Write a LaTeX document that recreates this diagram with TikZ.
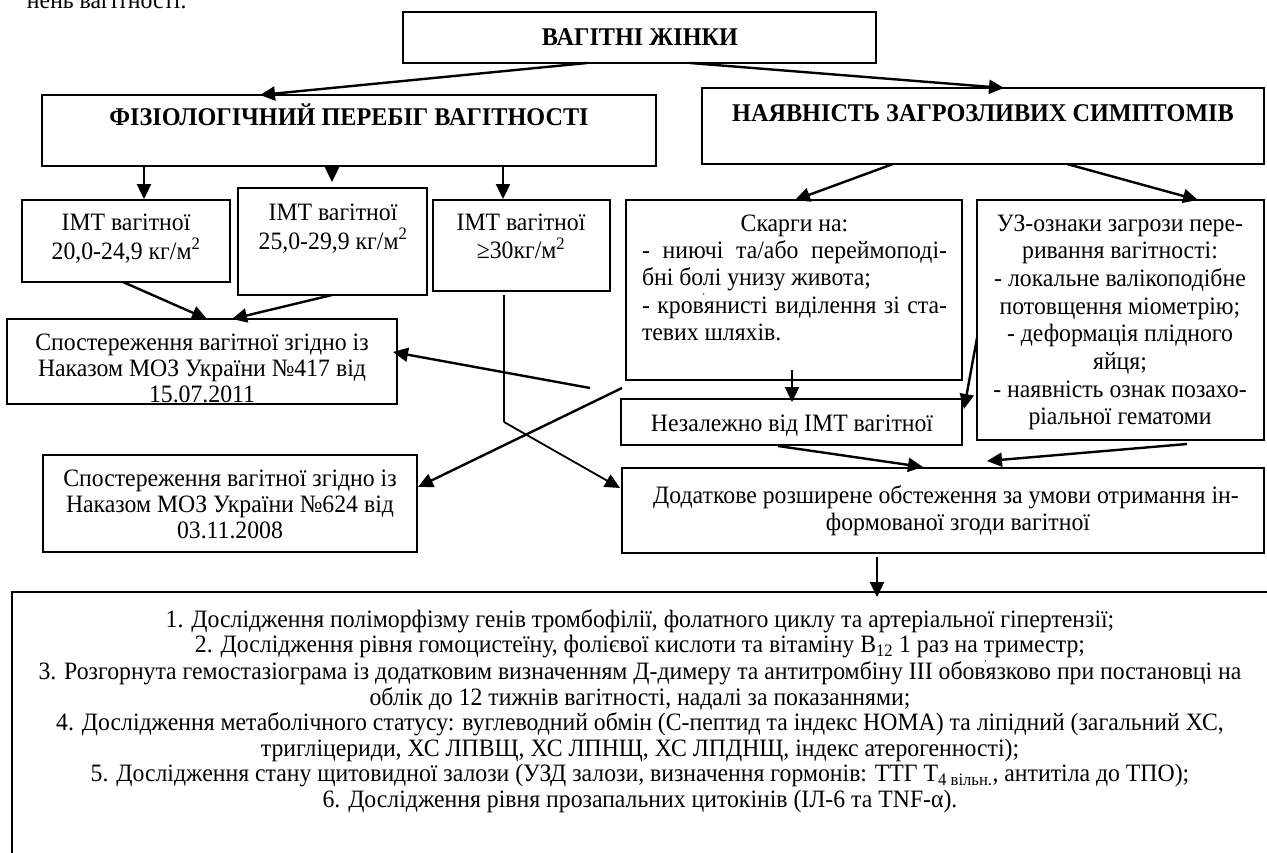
\documentclass[tikz,border=0pt]{standalone}
\usepackage{fontspec}
\setmainfont{Liberation Serif}[FakeStretch=0.95]
\usetikzlibrary{arrows.meta,calc}
\newcommand\mylines[2]{\fontsize{25}{#1}\selectfont\begin{tabular}[t]{@{}c@{}}#2\end{tabular}}
\newcommand\apos{\makebox[0pt]{\raisebox{0.55em}{\fontsize{9}{9}\selectfont ’}}}
\begin{document}
\begin{tikzpicture}[x=1pt,y=-1pt,
  box/.style={draw, line width=1.6pt, inner sep=0pt, outer sep=0pt, anchor=north west},
  lbl/.style={anchor=base, inner sep=0pt, outer sep=0pt, font=\fontsize{25}{27}\selectfont},
  bold/.style={lbl, font=\fontsize{25.5}{27}\selectfont\bfseries},
  arr/.style={line width=2.4pt, -{Triangle[length=15pt,width=14pt]}},
  thinline/.style={line width=1.2pt}]
\useasboundingbox (0,0) rectangle (1267,852);
% boxes
\node[box, minimum width=473pt, minimum height=51pt] (top) at (403,12) {};
\node[box, minimum width=614pt, minimum height=71pt] (fiz) at (42,95) {};
\node[box, minimum width=562pt, minimum height=76pt] (nayav) at (702,88) {};
\node[box, minimum width=208pt, minimum height=82pt] (imt1) at (22,200) {};
\node[box, minimum width=189pt, minimum height=107pt] (imt2) at (238,188) {};
\node[box, minimum width=177pt, minimum height=91pt] (imt3) at (433,200) {};
\node[box, minimum width=390pt, minimum height=85pt] (sp417) at (7,319) {};
\node[box, minimum width=374pt, minimum height=97pt] (sp624) at (43,455) {};
\node[box, minimum width=336pt, minimum height=180pt] (skarhy) at (626,200) {};
\node[box, minimum width=341pt, minimum height=46pt] (nezal) at (621,399) {};
\node[box, minimum width=287pt, minimum height=240pt] (uz) at (977,200) {};
\node[box, minimum width=642pt, minimum height=85pt] (dod) at (622,468) {};
\node[box, minimum width=1270pt, minimum height=300pt] (bottom) at (12,592) {};
% texts
\node[lbl, anchor=base west] (tpart) at (27,8) {нень вагітності.};
\node[bold] (ttop) at (640,45) {ВАГІТНІ ЖІНКИ};
\node[bold] (tfiz) at (349,125) {ФІЗІОЛОГІЧНИЙ ПЕРЕБІГ ВАГІТНОСТІ};
\node[bold] (tnay) at (983,121) {НАЯВНІСТЬ ЗАГРОЗЛИВИХ СИМПТОМІВ};
\node[lbl] (timt1) at (126,230) {\mylines{28}{ІМТ вагітної\\20,0-24,9 кг/м\textsuperscript{2}}};
\node[lbl] (timt2) at (333,220) {\mylines{28}{ІМТ вагітної\\25,0-29,9 кг/м\textsuperscript{2}}};
\node[lbl] (timt3) at (521,230) {\mylines{26}{ІМТ вагітної\\≥30кг/м\textsuperscript{2}}};
\begin{scope}
\clip (sp417.north west) rectangle ($(sp417.south east)+(0,-1)$);
\node[lbl] (tsp417) at (202,350) {\mylines{26}{Спостереження вагітної згідно із\\Наказом МОЗ України №417 від\\15.07.2011}};
\end{scope}
\node[lbl] (tsp624) at (230,486) {\mylines{26}{Спостереження вагітної згідно із\\Наказом МОЗ України №624 від\\03.11.2008}};
\node[lbl, anchor=base west] (tskarhy) at (642,231) {\fontsize{25}{27.3}\selectfont\begin{tabular}[t]{@{}l@{}}\makebox[305pt][c]{Скарги на:}\\\makebox[305pt][s]{- ниючі та/або переймоподі-}\\бні болі унизу живота;\\\makebox[305pt][s]{- кров\apos янисті виділення зі ста-}\\тевих шляхів.\end{tabular}};
\node[lbl] (tnezal) at (792,431) {Незалежно від ІМТ вагітної};
\node[lbl] (tuz) at (1120,231) {\mylines{27.7}{УЗ-ознаки загрози пере-\\ривання вагітності:\\- локальне валікоподібне\\потовщення міометрію;\\- деформація плідного\\яйця;\\- наявність ознак позахо-\\ріальної гематоми}};
\node[lbl] (tdod) at (946,503) {\mylines{27}{Додаткове розширене обстеження за умови отримання ін-\\\hspace*{24pt}формованої згоди вагітної}};
\node[lbl] (tbottom) at (640,627) {\mylines{25.5}{1. Дослідження поліморфізму генів тромбофілії, фолатного циклу та артеріальної гіпертензії;\\
2. Дослідження рівня гомоцистеїну, фолієвої кислоти та вітаміну B\textsubscript{12} 1 раз на триместр;\\
3. Розгорнута гемостазіограма із додатковим визначенням Д-димеру та антитромбіну III обов\apos язково при постановці на\\
облік до 12 тижнів вагітності, надалі за показаннями;\\
4. Дослідження метаболічного статусу: вуглеводний обмін (С-пептид та індекс НОМА) та ліпідний (загальний ХС,\\
тригліцериди, ХС ЛПВЩ, ХС ЛПНЩ, ХС ЛПДНЩ, індекс атерогенності);\\
5. Дослідження стану щитовидної залози (УЗД залози, визначення гормонів: ТТГ Т\textsubscript{4 вільн.}, антитіла до ТПО);\\
6. Дослідження рівня прозапальних цитокінів (ІЛ-6 та TNF-α).}};
% free coordinates
\coordinate (c1) at (590,388);
\coordinate (c2) at (622,388);
\coordinate (c3) at (504,422);
% connectors
\draw[arr] ($(top.south west)+(184,0)$) -- ($(fiz.north west)+(218,0)$);
\draw[arr] ($(top.south west)+(287,0)$) -- ($(nayav.north west)+(302,0)$);
\draw[arr] ($(fiz.south west)+(102,0)$) -- ($(imt1.north west)+(122,-1)$);
\draw[arr] ($(fiz.south west)+(290,0)$) -- ($(imt2.north west)+(94,-6)$);
\draw[arr] ($(fiz.south west)+(461,0)$) -- ($(imt3.north west)+(70,-1)$);
\draw[arr] ($(imt1.south west)+(101,0)$) -- ($(sp417.north west)+(200,0)$);
\draw[arr] ($(imt2.south west)+(94,0)$) -- ($(sp417.north west)+(225,0)$);
\draw[arr] (c1) -- ($(sp417.north east)+(-4,33)$);
\draw[arr] (c2) -- ($(sp624.north east)+(1,32)$);
\draw[thinline] ($(imt3.south west)+(71,4)$) -- (c3);
\draw[arr, line width=1.8pt] (c3) -- ($(dod.north west)+(-2,20)$);
\draw[arr] ($(nayav.south west)+(191,0)$) -- ($(skarhy.north west)+(169,0)$);
\draw[arr] ($(nayav.south west)+(365,0)$) -- ($(uz.north west)+(221,0)$);
\draw[arr] ($(skarhy.south west)+(166,-10)$) -- ($(nezal.north west)+(171,3)$);
\draw[arr] ($(uz.north west)+(0,138)$) -- ($(nezal.north east)+(2,10)$);
\draw[arr] ($(nezal.south west)+(157,1)$) -- ($(dod.north west)+(301,-1)$);
\draw[arr] ($(uz.south west)+(210,4)$) -- ($(dod.north west)+(365,-7)$);
\draw[arr] ($(dod.south west)+(255,4)$) -- ($(bottom.north west)+(865,5)$);
\end{tikzpicture}
\end{document}
